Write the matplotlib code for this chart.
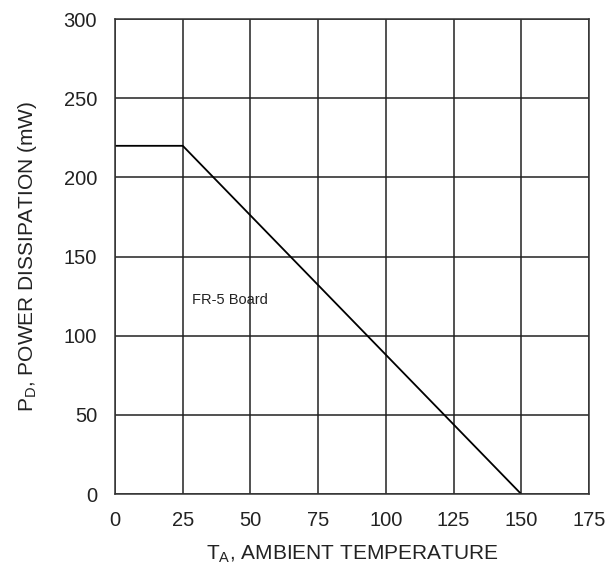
import matplotlib
matplotlib.use("Agg")
import matplotlib.pyplot as plt

plt.rcParams['font.family'] = ['Liberation Sans', 'DejaVu Sans']

# derating curve
temp = [0, 25, 150]
power = [220, 220, 0]
xticks = [0, 25, 50, 75, 100, 125, 150, 175]
yticks = [0, 50, 100, 150, 200, 250, 300]

fig = plt.figure(figsize=(6.09, 5.64), dpi=100)
ax = fig.add_axes([0.189, 0.124, 0.778, 0.842])

ax.plot(temp, power, color='black', lw=1.3)
ax.set_xlim(0, 175)
ax.set_ylim(0, 300)
ax.set_xticks(xticks)
ax.set_yticks(yticks)
ax.grid(True, color='#222222', lw=1.1)
for s in ax.spines.values():
    s.set_color('#333333')
    s.set_linewidth(1.1)
ax.tick_params(length=0, labelsize=14.5, colors='#222222')
ax.tick_params(axis='x', pad=12)
ax.tick_params(axis='y', pad=13)

ax.text(28.5, 122.5, "FR-5 Board", fontsize=10.5, va='center', color='#222222')

ax.set_xlabel("T$_\\mathregular{A}$, AMBIENT TEMPERATURE", fontsize=15, color='#222222', labelpad=9.5)
ax.set_ylabel("P$_\\mathregular{D}$, POWER DISSIPATION (mW)", fontsize=15, color='#222222', labelpad=18)

fig.savefig("out.png", dpi=100)
